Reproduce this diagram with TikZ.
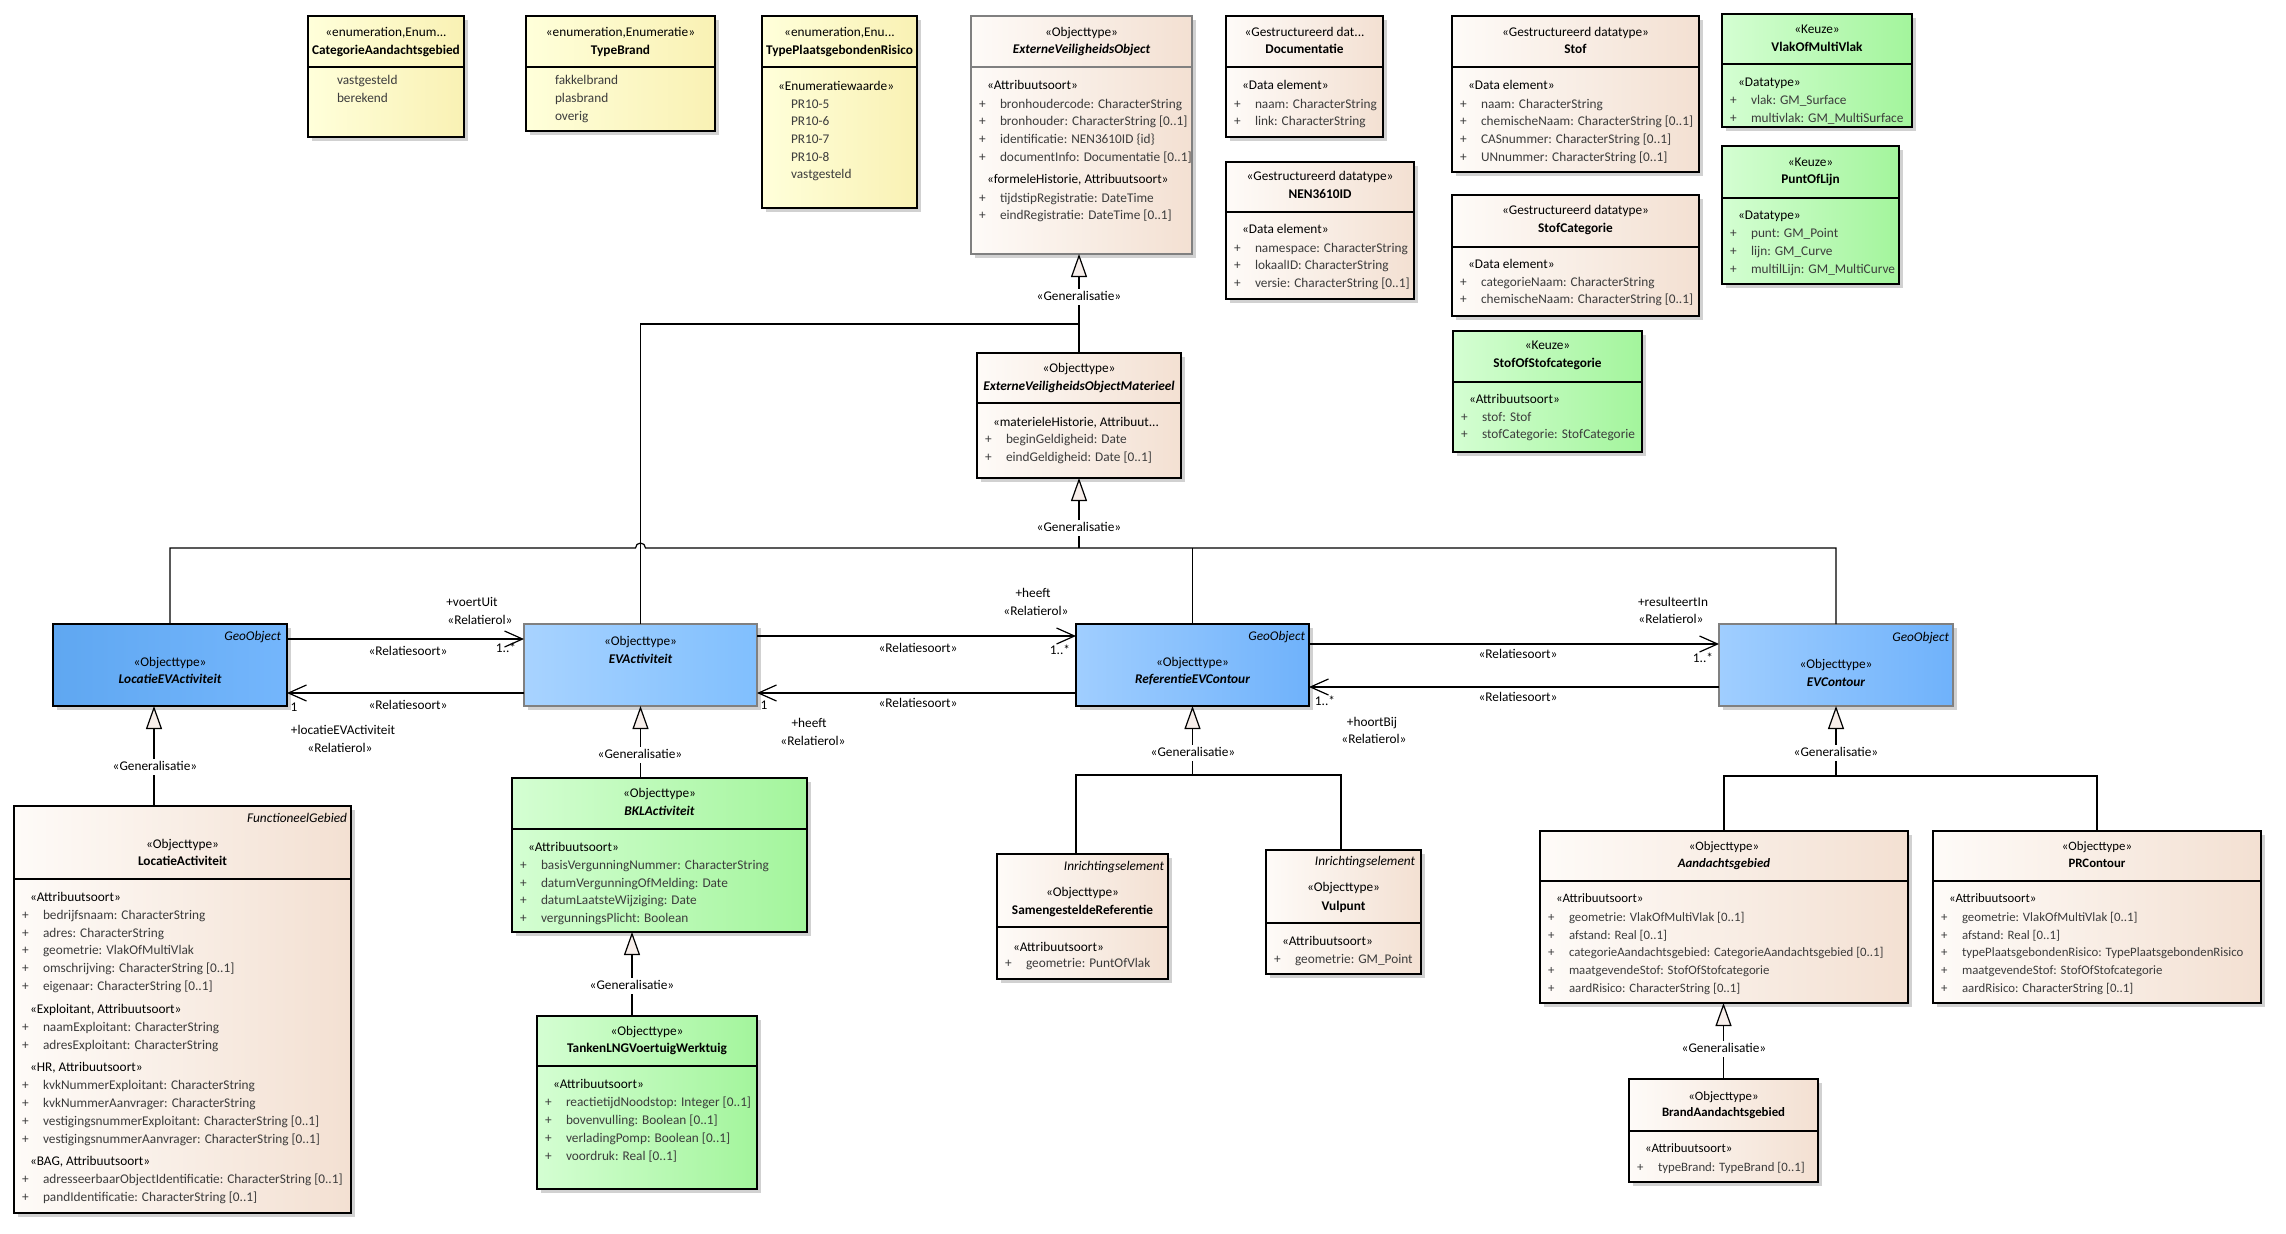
\documentclass[tikz,border=0pt]{standalone}
\usepackage{fontspec}
\setmainfont{Carlito}
\usetikzlibrary{arrows.meta,shadows}
\definecolor{yelL}{HTML}{FFFFDA}
\definecolor{yelR}{HTML}{F9F1B4}
\definecolor{peaL}{HTML}{FEFBF8}
\definecolor{peaR}{HTML}{F3E0D2}
\definecolor{grnL}{HTML}{D4FED2}
\definecolor{grnR}{HTML}{A3F59C}
\definecolor{bluAL}{HTML}{5FA7F1}
\definecolor{bluAR}{HTML}{74B6FC}
\definecolor{bluBL}{HTML}{A0CEFF}
\definecolor{bluBR}{HTML}{6FB2FB}
\definecolor{bluCL}{HTML}{A8D3FF}
\definecolor{bluCR}{HTML}{80BFFE}
\definecolor{greyb}{HTML}{808080}
\definecolor{attc}{HTML}{3C3C3C}
\definecolor{trif}{HTML}{F7EEEA}
\newcounter{tl}
\def\tf{\fontsize{13.3}{16}\selectfont}
\tikzset{
  txt/.style={inner sep=0pt, outer sep=0pt, text height=10pt, text depth=2.5pt, font=\tf},
  boxbase/.style={draw=black, line width=1.2pt, inner sep=0pt, outer sep=0pt, anchor=north west,
    drop shadow={shadow xshift=4pt, shadow yshift=-4pt, fill=black!20, opacity=0.9}},
  ybox/.style={boxbase, left color=yelL, right color=yelR},
  pbox/.style={boxbase, left color=peaL, right color=peaR},
  gbox/.style={boxbase, left color=grnL, right color=grnR},
  bboxA/.style={boxbase, left color=bluAL, right color=bluAR},
  bboxB/.style={boxbase, left color=bluBL, right color=bluBR},
  bboxC/.style={boxbase, left color=bluCL, right color=bluCR},
  conn/.style={draw=black, line width=1.2pt},
  gen/.style={conn, -{Triangle[length=23pt,width=16pt,fill=trif]}},
  assoc/.style={conn, -{Straight Barb[length=18pt,width=16pt]}},
}
\newcommand\mytx[4][]{\stepcounter{tl}\node[txt,#1] (t\arabic{tl}) at ({#2},{#3}) {#4};}
\newcommand\mynm[3]{\mytx[font=\tf\bfseries]{#1}{#2}{#3}}
\newcommand\mynmi[3]{\mytx[font=\tf\bfseries\itshape]{#1}{#2}{#3}}
\newcommand\myit[3]{\mytx[anchor=east,font=\tf\itshape]{#1}{#2}{#3}}
\newcommand\myhd[3]{\mytx[anchor=west]{#1+16}{#2}{#3}}
\newcommand\myat[3]{\mytx[anchor=west,text=attc]{#1+8}{#2}{+}\mytx[anchor=west,text=attc]{#1+29}{#2}{#3}}
\newcommand\myval[3]{\mytx[anchor=west,text=attc]{#1+29}{#2}{#3}}
\newcommand\mygl[2]{\mytx[fill=white,inner sep=1.5pt]{#1}{#2}{«Generalisatie»}}
\newcommand\mycls[8][black]{%
  \node[#3, minimum width={#6-#4}, minimum height={#7-#5}] (#2) at ({#4},{#5}) {};
  \draw[line width=1.2pt, draw=#1] ({#4},{#8}) -- ({#6},{#8});}
\newcommand\myblk[6]{%
  \node[#2, minimum width={#5-#3}, minimum height={#6-#4}] (#1) at ({#3},{#4}) {};}
\begin{document}
\begin{tikzpicture}[x=1pt,y=-1pt]
\useasboundingbox (0,0) rectangle (2286,1234);
\fill[white] (0,0) rectangle (2286,1234);

% ---------- boxes ----------
\mycls{catA}{ybox}{308}{16}{464}{137}{67}
\mycls{typeB}{ybox}{526}{16}{715}{131}{67}
\mycls{typePR}{ybox}{762}{16}{917}{208}{67}
\mycls[greyb]{evo}{pbox,draw=greyb}{971}{16}{1192}{254}{67}
\mycls{doc}{pbox}{1226}{16}{1383}{137}{67}
\mycls{nen}{pbox}{1226}{162}{1414}{299}{212}
\mycls{stof}{pbox}{1452}{16}{1699}{172}{67}
\mycls{stofcat}{pbox}{1452}{195}{1699}{316}{247}
\mycls{stofof}{gbox}{1453}{331}{1642}{452}{382}
\mycls{vlak}{gbox}{1722}{14}{1912}{127}{64}
\mycls{punt}{gbox}{1722}{146}{1899}{284}{198}
\mycls{evom}{pbox}{977}{353}{1181}{478}{403}
\myblk{locEVA}{bboxA}{53}{624}{287}{706}
\myblk{eva}{bboxC,draw=greyb}{524}{624}{757}{706}
\myblk{refevc}{bboxB}{1076}{624}{1309}{706}
\myblk{evc}{bboxB,draw=greyb}{1719}{624}{1953}{706}
\mycls{locAct}{pbox}{14}{806}{351}{1213}{879}
\mycls{bkl}{gbox}{512}{778}{807}{932}{829}
\mycls{tanken}{gbox}{537}{1016}{757}{1189}{1066}
\mycls{samen}{pbox}{997}{854}{1168}{979}{927}
\mycls{vulpunt}{pbox}{1266}{850}{1421}{974}{923}
\mycls{aand}{pbox}{1540}{831}{1908}{1003}{881}
\mycls{prc}{pbox}{1933}{831}{2261}{1003}{881}
\mycls{brand}{pbox}{1629}{1079}{1818}{1182}{1131}

% ---------- box texts ----------
\mytx{386}{33}{«enumeration,Enum...}
\mynm{386}{51}{CategorieAandachtsgebied}
\myval{308}{81}{vastgesteld}
\myval{308}{99}{berekend}

\mytx{620.5}{33}{«enumeration,Enumeratie»}
\mynm{620.5}{51}{TypeBrand}
\myval{526}{81}{fakkelbrand}
\myval{526}{99}{plasbrand}
\myval{526}{117}{overig}

\mytx{839.5}{33}{«enumeration,Enu...}
\mynm{839.5}{51}{TypePlaatsgebondenRisico}
\myhd{762}{87}{«Enumeratiewaarde»}
\myval{762}{105}{PR10-5}
\myval{762}{122}{PR10-6}
\myval{762}{140}{PR10-7}
\myval{762}{158}{PR10-8}
\myval{762}{175}{vastgesteld}

\mytx{1081.5}{33}{«Objecttype»}
\mynmi{1081.5}{50}{ExterneVeiligheidsObject}
\myhd{971}{86}{«Attribuutsoort»}
\myat{971}{105}{bronhoudercode: CharacterString}
\myat{971}{122}{bronhouder: CharacterString [0..1]}
\myat{971}{140}{identificatie: NEN3610ID \{id\}}
\myat{971}{158}{documentInfo: Documentatie [0..1]}
\myhd{971}{180}{«formeleHistorie, Attribuutsoort»}
\myat{971}{199}{tijdstipRegistratie: DateTime}
\myat{971}{216}{eindRegistratie: DateTime [0..1]}

\mytx{1304.5}{33}{«Gestructureerd dat...}
\mynm{1304.5}{50}{Documentatie}
\myhd{1226}{86}{«Data element»}
\myat{1226}{105}{naam: CharacterString}
\myat{1226}{122}{link: CharacterString}

\mytx{1320}{177}{«Gestructureerd datatype»}
\mynm{1320}{195}{NEN3610ID}
\myhd{1226}{230}{«Data element»}
\myat{1226}{249}{namespace: CharacterString}
\myat{1226}{266}{lokaalID: CharacterString}
\myat{1226}{284}{versie: CharacterString [0..1]}

\mytx{1575.5}{33}{«Gestructureerd datatype»}
\mynm{1575.5}{50}{Stof}
\myhd{1452}{86}{«Data element»}
\myat{1452}{105}{naam: CharacterString}
\myat{1452}{122}{chemischeNaam: CharacterString [0..1]}
\myat{1452}{140}{CASnummer: CharacterString [0..1]}
\myat{1452}{158}{UNnummer: CharacterString [0..1]}

\mytx{1575.5}{211}{«Gestructureerd datatype»}
\mynm{1575.5}{229}{StofCategorie}
\myhd{1452}{265}{«Data element»}
\myat{1452}{283}{categorieNaam: CharacterString}
\myat{1452}{300}{chemischeNaam: CharacterString [0..1]}

\mytx{1547.5}{346}{«Keuze»}
\mynm{1547.5}{364}{StofOfStofcategorie}
\myhd{1453}{400}{«Attribuutsoort»}
\myat{1453}{418}{stof: Stof}
\myat{1453}{435}{stofCategorie: StofCategorie}

\mytx{1817}{30}{«Keuze»}
\mynm{1817}{48}{VlakOfMultiVlak}
\myhd{1722}{83}{«Datatype»}
\myat{1722}{101}{vlak: GM\_Surface}
\myat{1722}{119}{multivlak: GM\_MultiSurface}

\mytx{1810.5}{163}{«Keuze»}
\mynm{1810.5}{180}{PuntOfLijn}
\myhd{1722}{216}{«Datatype»}
\myat{1722}{234}{punt: GM\_Point}
\myat{1722}{252}{lijn: GM\_Curve}
\myat{1722}{270}{multilLijn: GM\_MultiCurve}

\mytx{1079}{369}{«Objecttype»}
\mynmi{1079}{387}{ExterneVeiligheidsObjectMaterieel}
\myhd{977}{423}{«materieleHistorie, Attribuut...}
\myat{977}{440}{beginGeldigheid: Date}
\myat{977}{458}{eindGeldigheid: Date [0..1]}

\myit{281}{637}{GeoObject}
\mytx{170}{663}{«Objecttype»}
\mynmi{170}{680}{LocatieEVActiviteit}

\mytx{640.5}{642}{«Objecttype»}
\mynmi{640.5}{660}{EVActiviteit}

\myit{1305}{637}{GeoObject}
\mytx{1192.5}{663}{«Objecttype»}
\mynmi{1192.5}{680}{ReferentieEVContour}

\myit{1949}{638}{GeoObject}
\mytx{1836}{665}{«Objecttype»}
\mynmi{1836}{683}{EVContour}

\myit{347}{819}{FunctioneelGebied}
\mytx{182.5}{845}{«Objecttype»}
\mynm{182.5}{862}{LocatieActiviteit}
\myhd{14}{898}{«Attribuutsoort»}
\myat{14}{916}{bedrijfsnaam: CharacterString}
\myat{14}{934}{adres: CharacterString}
\myat{14}{951}{geometrie: VlakOfMultiVlak}
\myat{14}{969}{omschrijving: CharacterString [0..1]}
\myat{14}{987}{eigenaar: CharacterString [0..1]}
\myhd{14}{1010}{«Exploitant, Attribuutsoort»}
\myat{14}{1028}{naamExploitant: CharacterString}
\myat{14}{1046}{adresExploitant: CharacterString}
\myhd{14}{1068}{«HR, Attribuutsoort»}
\myat{14}{1086}{kvkNummerExploitant: CharacterString}
\myat{14}{1104}{kvkNummerAanvrager: CharacterString}
\myat{14}{1122}{vestigingsnummerExploitant: CharacterString [0..1]}
\myat{14}{1140}{vestigingsnummerAanvrager: CharacterString [0..1]}
\myhd{14}{1162}{«BAG, Attribuutsoort»}
\myat{14}{1180}{adresseerbaarObjectIdentificatie: CharacterString [0..1]}
\myat{14}{1198}{pandIdentificatie: CharacterString [0..1]}

\mytx{659.5}{794}{«Objecttype»}
\mynmi{659.5}{812}{BKLActiviteit}
\myhd{512}{848}{«Attribuutsoort»}
\myat{512}{866}{basisVergunningNummer: CharacterString}
\myat{512}{884}{datumVergunningOfMelding: Date}
\myat{512}{901}{datumLaatsteWijziging: Date}
\myat{512}{919}{vergunningsPlicht: Boolean}

\mytx{647}{1032}{«Objecttype»}
\mynm{647}{1049}{TankenLNGVoertuigWerktuig}
\myhd{537}{1085}{«Attribuutsoort»}
\myat{537}{1103}{reactietijdNoodstop: Integer [0..1]}
\myat{537}{1121}{bovenvulling: Boolean [0..1]}
\myat{537}{1139}{verladingPomp: Boolean [0..1]}
\myat{537}{1157}{voordruk: Real [0..1]}

\myit{1164}{867}{Inrichtingselement}
\mytx{1082.5}{893}{«Objecttype»}
\mynm{1082.5}{911}{SamengesteldeReferentie}
\myhd{997}{948}{«Attribuutsoort»}
\myat{997}{964}{geometrie: PuntOfVlak}

\myit{1415}{862}{Inrichtingselement}
\mytx{1343.5}{888}{«Objecttype»}
\mynm{1343.5}{907}{Vulpunt}
\myhd{1266}{942}{«Attribuutsoort»}
\myat{1266}{960}{geometrie: GM\_Point}

\begin{scope}
\def\tf{\fontsize{12.8}{15}\selectfont}
\mytx{1724}{847}{«Objecttype»}
\mynmi{1724}{864}{Aandachtsgebied}
\myhd{1540}{899}{«Attribuutsoort»}
\myat{1540}{918}{geometrie: VlakOfMultiVlak [0..1]}
\myat{1540}{936}{afstand: Real [0..1]}
\myat{1540}{953}{categorieAandachtsgebied: CategorieAandachtsgebied [0..1]}
\myat{1540}{971}{maatgevendeStof: StofOfStofcategorie}
\myat{1540}{989}{aardRisico: CharacterString [0..1]}

\mytx{2097}{847}{«Objecttype»}
\mynm{2097}{864}{PRContour}
\myhd{1933}{899}{«Attribuutsoort»}
\myat{1933}{918}{geometrie: VlakOfMultiVlak [0..1]}
\myat{1933}{936}{afstand: Real [0..1]}
\myat{1933}{953}{typePlaatsgebondenRisico: TypePlaatsgebondenRisico}
\myat{1933}{971}{maatgevendeStof: StofOfStofcategorie}
\myat{1933}{989}{aardRisico: CharacterString [0..1]}

\mytx{1723.5}{1097}{«Objecttype»}
\mynm{1723.5}{1113}{BrandAandachtsgebied}
\myhd{1629}{1149}{«Attribuutsoort»}
\myat{1629}{1168}{typeBrand: TypeBrand [0..1]}
\end{scope}

% ---------- generalisation connectors ----------
\coordinate (jevo) at (1079,324);
\coordinate (jm) at (1079,548);
\coordinate (hopA) at (635.5,548);
\draw[gen] (evom.north) -- (evom.north |- evo.south);
\draw[conn] (eva.north) |- (jevo);
\draw[conn] (locEVA.north) |- (hopA) arc (180:360:5) -| (evc.north);
\draw[conn] (refevc.north) -- (refevc.north |- jm);
\draw[gen] (jm) -- (evom.south);

\coordinate (leB) at (154,706);
\draw[gen] (locAct.north -| leB) -- (leB);
\draw[gen] (bkl.north -| eva.south) -- (eva.south);
\coordinate (bklB) at (632,932);
\draw[gen] (tanken.north -| bklB) -- (bklB);

\coordinate (jr) at (1192.5,775);
\draw[gen] (jr) -- (refevc.south);
\draw[conn] ([xshift=-6.5pt]samen.north) |- (jr) -| ([xshift=-2.5pt]vulpunt.north);

\coordinate (je) at (1836,776);
\draw[gen] (je) -- (evc.south);
\draw[conn] (aand.north) |- (je) -| (prc.north);
\draw[gen] (brand.north) -- (brand.north |- aand.south);

\mygl{1079}{297}
\mygl{1079}{528}
\mygl{155}{767}
\mygl{640}{755}
\mygl{632}{986}
\mygl{1193}{753}
\mygl{1836}{753}
\mygl{1724}{1049}

% ---------- associations ----------
\draw[assoc] ([yshift=-15pt]locEVA.north east) -- ([yshift=-15pt]eva.north west);
\draw[assoc] ([yshift=-69pt]eva.north west) -- ([yshift=-69pt]locEVA.north east);
\draw[assoc] ([yshift=-12pt]eva.north east) -- ([yshift=-12pt]refevc.north west);
\draw[assoc] ([yshift=-69pt]refevc.north west) -- ([yshift=-69pt]eva.north east);
\draw[assoc] ([yshift=-20pt]refevc.north east) -- ([yshift=-20pt]evc.north west);
\draw[assoc] ([yshift=-63pt]evc.north west) -- ([yshift=-63pt]refevc.north east);

\mytx{472}{603}{+voertUit}
\mytx{480}{621}{«Relatierol»}
\mytx{506}{649}{1..*}
\mytx{408}{652}{«Relatiesoort»}
\mytx{294}{708}{1}
\mytx{408}{706}{«Relatiesoort»}
\mytx{343}{731}{+locatieEVActiviteit}
\mytx{340}{749}{«Relatierol»}

\mytx{1033}{594}{+heeft}
\mytx{1036}{612}{«Relatierol»}
\mytx{1060}{651}{1..*}
\mytx{918}{649}{«Relatiesoort»}
\mytx{764}{706}{1}
\mytx{918}{704}{«Relatiesoort»}
\mytx{809}{724}{+heeft}
\mytx{813}{742}{«Relatierol»}

\mytx{1673}{603}{+resulteertIn}
\mytx{1671}{620}{«Relatierol»}
\mytx{1703}{659}{1..*}
\mytx{1518}{655}{«Relatiesoort»}
\mytx{1518}{698}{«Relatiesoort»}
\mytx{1325}{702}{1..*}
\mytx{1372}{723}{+hoortBij}
\mytx{1374}{740}{«Relatierol»}
\end{tikzpicture}
\end{document}
